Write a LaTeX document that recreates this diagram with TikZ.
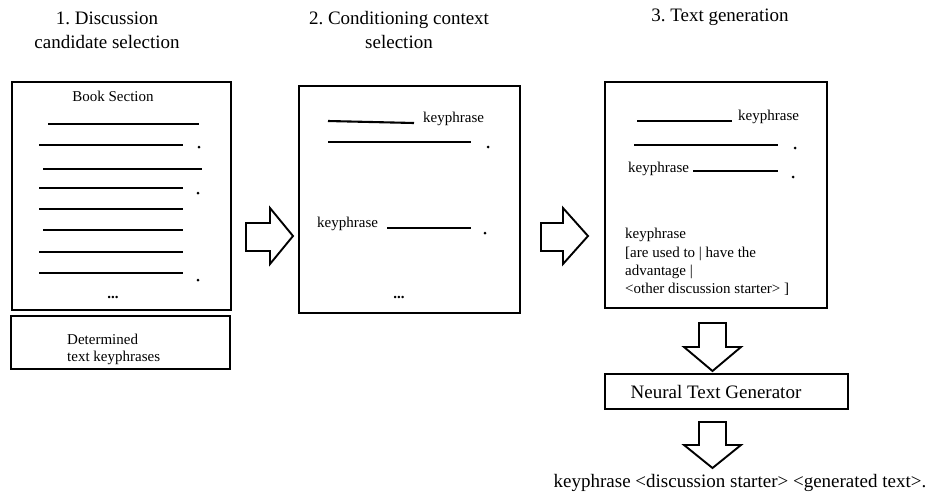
\documentclass[tikz,border=0pt]{standalone}
\usepackage{fontspec}
\setmainfont{Liberation Serif}
\frenchspacing
\newcommand\myboxfont{\fontsize{15}{18.3}\selectfont}
\newcommand\mytitlefont{\fontsize{19}{24}\selectfont}
\tikzset{
  panel/.style={draw=black, line width=2.4pt, fill=white},
  txtline/.style={line width=2.1pt},
  blockarrow/.style={draw=black, line width=1.9pt, fill=white, line join=miter},
  bt/.style={inner sep=0pt, font=\myboxfont},
  tt/.style={inner sep=0pt, font=\mytitlefont, align=center},
  dotmark/.style={fill=black, circle, inner sep=0pt, minimum size=3pt}
}
\begin{document}
\begin{tikzpicture}[x=1pt, y=-1pt]
\useasboundingbox (0,0) rectangle (935,496);

% titles
\node[tt] (t1) at (107,30) {1. Discussion\\candidate selection};
\node[tt] (t2) at (399,30) {2. Conditioning context\\selection};
\node[tt] (t3) at (720,17) {3. Text generation};

% panel 1
\draw[panel] (12,82) rectangle (231,310);
\node[bt] (bs) at (113,96) {Book Section};
\draw[txtline] (48,124) -- (199,124);
\draw[txtline] (39,145) -- (183,145);
\node[dotmark] (d11) at (199,147) {};
\draw[txtline] (43,169) -- (202,169);
\draw[txtline] (39,188) -- (183,188);
\node[dotmark] (d12) at (198,193) {};
\draw[txtline] (39,209) -- (183,209);
\draw[txtline] (43,230) -- (183,230);
\draw[txtline] (39,252) -- (183,252);
\draw[txtline] (39,273) -- (183,273);
\node[dotmark] (d13) at (198,280) {};
\node[bt, font=\myboxfont\bfseries] (e1) at (113,297) {...};

% determined box
\draw[panel] (11,316) rectangle (230,369);
\node[bt, align=left, anchor=west, font=\fontsize{15}{17}\selectfont] (det) at (67,349) {Determined\\text keyphrases};

% arrow 1
\draw[blockarrow] (246,223) -- (270,223) -- (270,208) -- (293,236) -- (270,264) -- (270,251) -- (246,251) -- cycle;

% panel 2
\draw[panel] (299,86) rectangle (520,313);
\draw[txtline] (328,121) -- (414,123);
\node[bt, anchor=west] (k21) at (423,119) {keyphrase};
\draw[txtline] (328,142) -- (471,142);
\node[dotmark] (d21) at (488,147) {};
\node[bt, anchor=west] (k22) at (317,224) {keyphrase};
\draw[txtline] (387,228) -- (471,228);
\node[dotmark] (d22) at (485,233) {};
\node[bt, font=\myboxfont\bfseries] (e2) at (399,297) {...};

% arrow 2
\draw[blockarrow] (541,223) -- (563,223) -- (563,208) -- (588,236) -- (563,264) -- (563,251) -- (541,251) -- cycle;

% panel 3
\draw[panel] (605,82) rectangle (827,308);
\draw[txtline] (637,121) -- (732,121);
\node[bt, anchor=west] (k31) at (738,117) {keyphrase};
\draw[txtline] (634,145) -- (778,145);
\node[dotmark] (d31) at (795,148) {};
\node[bt, anchor=west] (k32) at (628,169) {keyphrase};
\draw[txtline] (693,171) -- (778,171);
\node[dotmark] (d32) at (793,177) {};
\node[bt, align=left, anchor=north west] (blk) at (625,228.3) {keyphrase\\{[}are used to | have the\\advantage |\\<other discussion starter> ]};

% down arrow 1
\draw[blockarrow] (699,323) -- (726,323) -- (726,347) -- (741,347) -- (712.5,371) -- (684,347) -- (699,347) -- cycle;

% neural text generator
\draw[panel] (605,374) rectangle (848,409);
\node[tt] (ntg) at (716,392) {Neural Text Generator};

% down arrow 2
\draw[blockarrow] (699,422) -- (726,422) -- (726,445) -- (741,445) -- (712.5,468) -- (684,445) -- (699,445) -- cycle;

% output text
\node[tt] (out) at (740,483) {keyphrase <discussion starter> <generated text>.};
\end{tikzpicture}
\end{document}
